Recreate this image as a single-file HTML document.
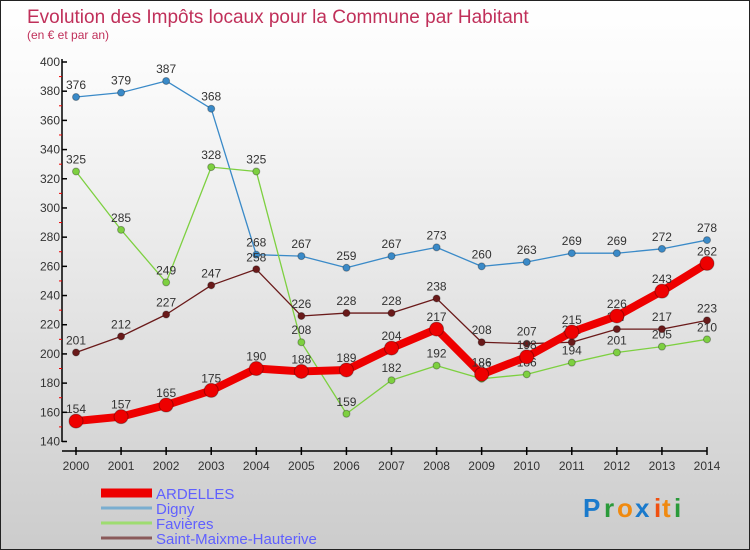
<!DOCTYPE html>
<html><head><meta charset="utf-8"><style>
body{margin:0}
#c{width:748px;height:548px;border:1px solid #222;background:linear-gradient(#fff,#fafafa 15%,#ccc);position:relative;overflow:hidden;font-family:"Liberation Sans",sans-serif}
</style></head><body>
<div id="c">
<svg id="s" width="748" height="548" xmlns="http://www.w3.org/2000/svg" font-family="Liberation Sans, sans-serif">
<text x="26" y="22" font-size="19" fill="#c0305a">Evolution des Impôts locaux pour la Commune par Habitant</text>
<text x="26" y="38" font-size="12" fill="#c0305a">(en € et par an)</text>
<g id="g"></g>
<g font-size="26" font-weight="bold">
<text x="582" y="516" fill="#1a7acc">P</text><text x="603" y="516" fill="#2a9a3a">r</text><text x="616" y="516" fill="#f08a10">o</text><text x="634" y="516" fill="#1a7acc">x</text><text x="653" y="516" fill="#f05010">i</text><text x="661" y="516" fill="#f08a10">t</text><text x="673" y="516" fill="#2a9a3a">i</text>
</g>
</svg>
</div>
<script>
const years=[2000,2001,2002,2003,2004,2005,2006,2007,2008,2009,2010,2011,2012,2013,2014];
const ardelles=[154,157,165,175,190,188,189,204,217,186,198,215,226,243,262];
const digny=[376,379,387,368,268,267,259,267,273,260,263,269,269,272,278];
const favieres=[325,285,249,328,325,208,159,182,192,183,186,194,201,205,210];
const saintMaixme=[201,212,227,247,258,226,228,228,238,208,207,208,217,217,223];
const yTicks=[140,160,180,200,220,240,260,280,300,320,340,360,380,400];
const seriesNames=["ARDELLES","Digny","Favières","Saint-Maixme-Hauterive"];
const NS="http://www.w3.org/2000/svg";
const g=document.getElementById('g');
const x=i=>75+i*(706-75)/(years.length-1);
const y=v=>440.5-(v-140)*(440.5-61)/260;
function el(t,a,p){const e=document.createElementNS(NS,t);for(const k in a)e.setAttribute(k,a[k]);(p||g).appendChild(e);return e;}
// axes
let ya=el('line',{x1:61,y1:58,x2:61,y2:441,stroke:'#000','stroke-width':1.5});


let xa=el('line',{x1:61,y1:450,x2:706,y2:450,stroke:'#000','stroke-width':1.5});


yTicks.forEach((v,i)=>{
  el('line',{x1:61,y1:y(v),x2:66,y2:y(v),stroke:'#000','stroke-width':1.5});
  if(i<yTicks.length-1) el('line',{x1:58,y1:y(v+10),x2:61,y2:y(v+10),stroke:'#e00','stroke-width':1});
  const t=el('text',{x:59,y:y(v)+4,'font-size':12,'text-anchor':'end',fill:'#333'});
  t.textContent=v;
  
  
});
years.forEach((yr,i)=>{
  el('line',{x1:x(i),y1:446,x2:x(i),y2:454,stroke:'#000','stroke-width':1.5});
  const t=el('text',{x:x(i),y:469,'font-size':12,'text-anchor':'middle',fill:'#333'});
  t.textContent=yr;
  
  
});
function series(vals,color,lw,r,name){
  const grp=el('g',{});
  
  
  el('polyline',{points:vals.map((v,i)=>x(i)+','+y(v)).join(' '),fill:'none',stroke:color,'stroke-width':lw,'stroke-linejoin':'round'},grp);
  vals.forEach((v,i)=>{
    const c=el('circle',{cx:x(i),cy:y(v),r:r,fill:color,stroke:'rgba(0,0,0,0.3)','stroke-width':1},grp);
    
    
    const t=el('text',{x:x(i),y:y(v)-8,'font-size':12,'text-anchor':'middle',fill:'#333'},grp);
    t.textContent=v;
  });
}
series(digny,'#3a8ac8',1.3,3.5,'series-digny');
series(favieres,'#7dd040',1.3,3.5,'series-favieres');
series(saintMaixme,'#6a1a1a',1.3,3.5,'series-saint-maixme');
series(ardelles,'#ee0000',8,7,'series-ardelles');
// legend
const lc=['#ee0000','#7aaed0','#9edc70','#8a5a5a'],lw=[9,3,3,3],ly=[492,507,522,537];
seriesNames.forEach((n,i)=>{
  const lg=el('g',{});
  
  
  el('line',{x1:100,y1:ly[i],x2:151,y2:ly[i],stroke:lc[i],'stroke-width':lw[i]},lg);
  const t=el('text',{x:155,y:ly[i]+6,'font-size':15,fill:'#6060ff'},lg);
  t.textContent=n;
});
</script>
</body></html>
